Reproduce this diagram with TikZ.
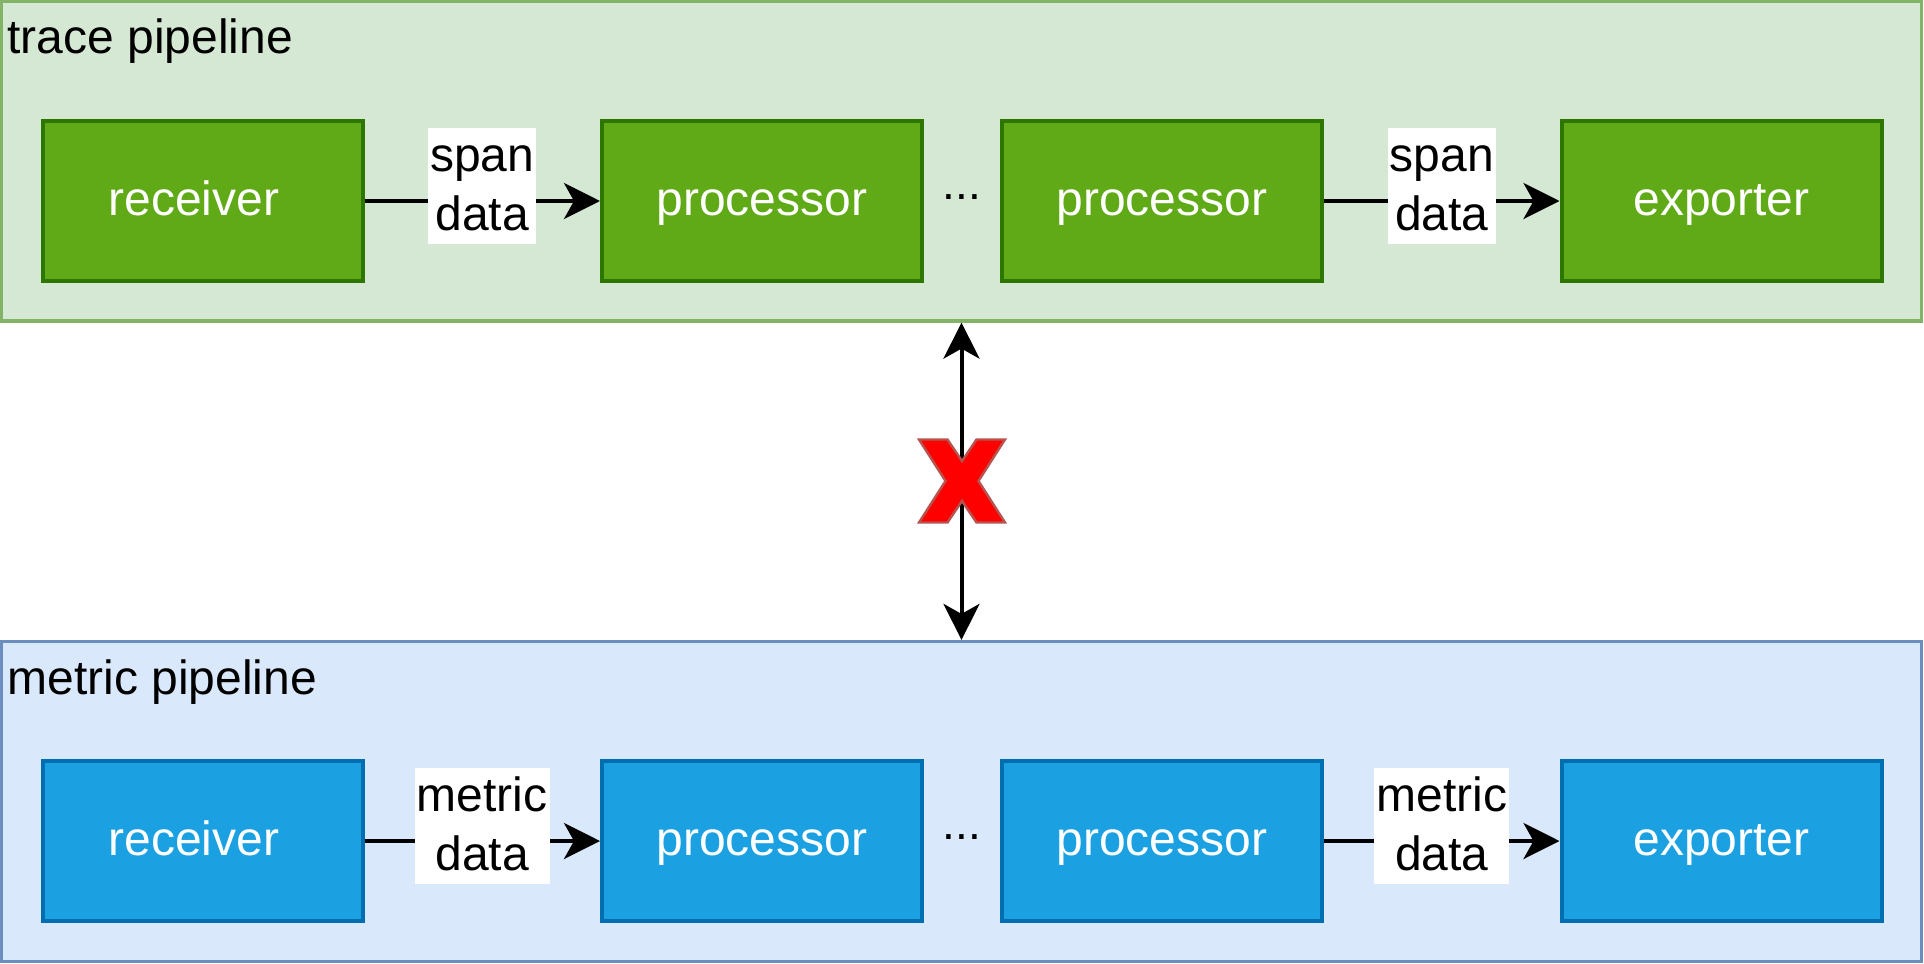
\documentclass[tikz,border=0pt]{standalone}
\usepackage{fontspec}
\setmainfont{Liberation Sans}
\usetikzlibrary{arrows.meta}
\definecolor{traceFill}{HTML}{D5E8D4}
\definecolor{traceLine}{HTML}{82B366}
\definecolor{traceBox}{HTML}{60A917}
\definecolor{traceBoxLine}{HTML}{2D7600}
\definecolor{metricFill}{HTML}{DAE8FC}
\definecolor{metricLine}{HTML}{6C8EBF}
\definecolor{metricBox}{HTML}{1BA1E2}
\definecolor{metricBoxLine}{HTML}{006EAF}
\definecolor{crossLine}{HTML}{B85450}

\begin{document}
\begin{tikzpicture}[x=0.5pt, y=-0.5pt,
    pipeline/.style={draw, line width=1.6pt, minimum width=960pt, minimum height=160pt, inner sep=0pt},
    stage/.style={draw, line width=2pt, minimum width=160pt, minimum height=80pt, inner sep=0pt,
        text=white, font=\fontsize{24}{29}\selectfont, text height=16pt, text depth=2pt},
    flow/.style={line width=2pt, -{Stealth[length=18pt, width=18pt, inset=5pt]}},
    link/.style={line width=2pt, {Stealth[length=18pt, width=18pt, inset=5pt]}-{Stealth[length=18pt, width=18pt, inset=5pt]}},
    datalabel/.style={fill=white, align=center, inner xsep=1pt, inner ysep=0pt,
        text height=51.7pt, text depth=6.3pt, font=\fontsize{24}{29.5}\selectfont, yshift=7.75pt},
    title/.style={anchor=base west, inner sep=0pt, font=\fontsize{24}{29}\selectfont},
    gap/.style={anchor=base, inner sep=0pt, font=\fontsize{23}{28}\selectfont}]
    \useasboundingbox (0,0) rectangle (1924,964);

    % Pipelines
    \node[pipeline, fill=traceFill, draw=traceLine] (trace) at (961.5,161) {};
    \node[pipeline, fill=metricFill, draw=metricLine] (metric) at (961.5,801.5) {};
    \node[title] (traceTitle) at (7,53.5) {trace pipeline};
    \node[title] (metricTitle) at (7,694.5) {metric pipeline};

    % Trace pipeline: receiver -> processor ... processor -> exporter
    \node[stage, fill=traceBox, draw=traceBoxLine] (traceRecv) at (202.5,201) {receiver\kern8.6pt};
    \node[stage, fill=traceBox, draw=traceBoxLine] (traceProcA) at (762,201) {processor};
    \node[stage, fill=traceBox, draw=traceBoxLine] (traceProcB) at (1162,201) {processor};
    \node[stage, fill=traceBox, draw=traceBoxLine] (traceExp) at (1721.5,201) {exporter};
    \node[gap] (traceDots) at (962,199) {...};
    \draw[flow] (traceRecv) -- node[datalabel] {span\\data} (traceProcA);
    \draw[flow] (traceProcB) -- node[datalabel] {span\\data} (traceExp);

    % Metric pipeline: receiver -> processor ... processor -> exporter
    \node[stage, fill=metricBox, draw=metricBoxLine] (metricRecv) at (202.5,841) {receiver\kern8.6pt};
    \node[stage, fill=metricBox, draw=metricBoxLine] (metricProcA) at (762,841) {processor};
    \node[stage, fill=metricBox, draw=metricBoxLine] (metricProcB) at (1162,841) {processor};
    \node[stage, fill=metricBox, draw=metricBoxLine] (metricExp) at (1721.5,841) {exporter};
    \node[gap] (metricDots) at (962,839) {...};
    \draw[flow] (metricRecv) -- node[datalabel] {metric\\data} (metricProcA);
    \draw[flow] (metricProcB) -- node[datalabel] {metric\\data} (metricExp);

    % No link between the pipelines
    \draw[link] (trace) -- (metric);
    \coordinate (cross) at (962,481);
    \filldraw[fill=red, draw=crossLine, line width=1.2pt, shift={(cross)}]
        (-43,-41.5) -- (-14.5,-41.5) -- (0,-20) -- (14.5,-41.5) -- (43,-41.5) -- (16.5,0)
        -- (43,41.5) -- (14.5,41.5) -- (0,20) -- (-14.5,41.5) -- (-43,41.5) -- (-16.5,0) -- cycle;
\end{tikzpicture}
\end{document}
